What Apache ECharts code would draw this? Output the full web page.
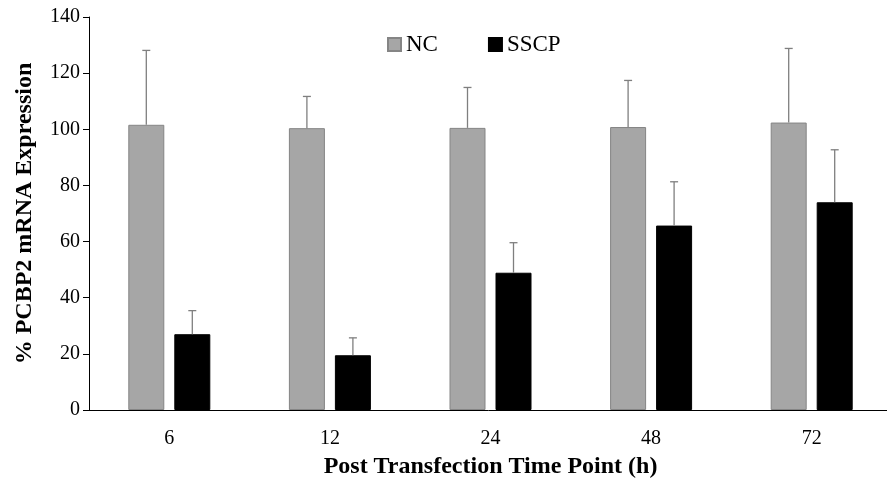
<!DOCTYPE html>
<html>
<head>
<meta charset="UTF-8" />
<title>PCBP2 mRNA Expression</title>
<script src="https://cdn.jsdelivr.net/npm/echarts@6/dist/echarts.min.js"></script>
<style>
  html, body { margin: 0; padding: 0; background: #fff; }
  #chart { width: 887px; height: 480px; }
</style>
</head>
<body>
<div id="chart"></div>
<script>
const categories = ['6', '12', '24', '48', '72'];
const ncMean = [101.6, 100.4, 100.5, 100.8, 102.4];
const ncSd = [26.5, 11.3, 14.4, 16.6, 26.4];
const sscpMean = [27.0, 19.5, 48.9, 65.7, 74.0];
const sscpSd = [8.4, 6.2, 10.7, 15.6, 18.7];
const yTicks = [0, 20, 40, 60, 80, 100, 120, 140];

const font = "'Liberation Serif', 'Times New Roman', serif";
const barW = 36;
const gap = 10;

// upward-only error bars, shifted to sit over each bar of the pair
const errRender = (offset) => (params, api) => {
    const i = api.value(0);
    const base = api.coord([i, api.value(1)]);
    const top = api.coord([i, api.value(2)]);
    const x = base[0] + offset;
    const st = { stroke: '#7f7f7f', lineWidth: 1.3 };
    return {
        type: 'group',
        children: [
            { type: 'line', shape: { x1: x, y1: base[1], x2: x, y2: top[1] }, style: st },
            { type: 'line', shape: { x1: x - 4, y1: top[1], x2: x + 4, y2: top[1] }, style: st }
        ]
    };
};

const errData = (mean, sd) => mean.map((m, i) => [i, m, +(m + sd[i]).toFixed(1)]);

const chart = echarts.init(document.getElementById('chart'));
const option = {
    animation: false,
    textStyle: { fontFamily: font },
    grid: { left: 89, top: 17, right: -5, bottom: 70, outerBoundsMode: 'none', containLabel: false },
    legend: {
        data: ['NC', 'SSCP'],
        left: 387, top: 33, padding: 0,
        itemWidth: 13, itemHeight: 13, itemGap: 50,
        icon: 'rect',
        textStyle: { fontFamily: font, fontSize: 23, color: '#000' }
    },
    xAxis: {
        type: 'category',
        data: categories,
        axisLine: { lineStyle: { color: '#000', width: 1 } },
        axisTick: { length: 6, lineStyle: { color: '#000' } },
        axisLabel: { fontSize: 20, color: '#000', margin: 19, fontFamily: font },
        name: 'Post Transfection Time Point (h)',
        nameLocation: 'middle',
        nameGap: 45,
        nameTextStyle: { fontSize: 24, fontWeight: 'bold', color: '#000', fontFamily: font }
    },
    yAxis: {
        type: 'value',
        min: yTicks[0], max: yTicks[yTicks.length - 1], interval: 20,
        splitLine: { show: false },
        axisLine: { show: true, lineStyle: { color: '#000', width: 1 } },
        axisTick: { show: true, length: 6, lineStyle: { color: '#000' } },
        axisLabel: { fontSize: 20, color: '#000', margin: 9, fontFamily: font },
        name: '% PCBP2 mRNA Expression',
        nameLocation: 'middle',
        nameGap: 52,
        nameTextStyle: { fontSize: 24, fontWeight: 'bold', color: '#000', fontFamily: font }
    },
    series: [
        {
            name: 'NC', type: 'bar', data: ncMean,
            barWidth: barW, barGap: (gap / barW * 100) + '%',
            itemStyle: { color: '#a6a6a6', borderColor: '#858585', borderWidth: 1 }
        },
        {
            name: 'SSCP', type: 'bar', data: sscpMean,
            barWidth: barW,
            itemStyle: { color: '#000', borderColor: '#000', borderWidth: 1 }
        },
        {
            type: 'custom', name: 'ncErr', data: errData(ncMean, ncSd),
            renderItem: errRender(-(barW + gap) / 2), z: 3
        },
        {
            type: 'custom', name: 'sscpErr', data: errData(sscpMean, sscpSd),
            renderItem: errRender((barW + gap) / 2), z: 3
        }
    ]
};
chart.setOption(option);
</script>
</body>
</html>
